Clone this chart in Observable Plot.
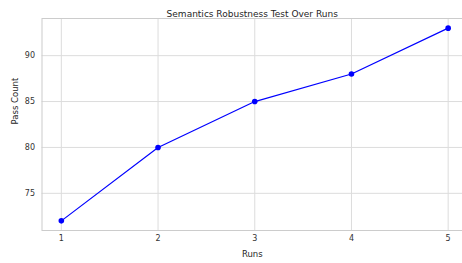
<!DOCTYPE html>
<html>
<head>
<meta charset="utf-8">
<script src="https://cdn.jsdelivr.net/npm/d3@7"></script>
<script src="https://cdn.jsdelivr.net/npm/@observablehq/plot@0.6"></script>
<style>
  html, body { margin: 0; padding: 0; background: #fff; }
  svg { display: block; }
</style>
</head>
<body>
<div id="chart"></div>
<script>
const runs = [1, 2, 3, 4, 5];
const passCount = [72, 80, 85, 88, 93];
const xTicks = [1, 2, 3, 4, 5];
const yTicks = [75, 80, 85, 90];
const title = "Semantics Robustness Test Over Runs";
const xLabel = "Runs";
const yLabel = "Pass Count";

const data = runs.map((r, i) => ({run: r, count: passCount[i]}));
const font = "DejaVu Sans, sans-serif";
const gridColor = "#dcdcdc";

const chart = Plot.plot({
  width: 462,
  height: 263,
  marginTop: 18,
  marginBottom: 33,
  marginLeft: 41.5,
  marginRight: 0,
  style: {fontFamily: font, background: "#fff"},
  x: {type: "linear", domain: [0.8, 5.2], range: [41.5, 467]},
  y: {domain: [70.95, 94.05]},
  marks: [
    Plot.gridX(xTicks, {stroke: gridColor, strokeOpacity: 1, strokeWidth: 1}),
    Plot.gridY(yTicks, {stroke: gridColor, strokeOpacity: 1, strokeWidth: 1}),
    Plot.frame({stroke: "#cccccc", strokeWidth: 1}),
    Plot.axisX(xTicks, {tickSize: 0, tickPadding: 5, label: null, fontSize: 8, fill: "#333", tickFormat: d => String(d)}),
    Plot.axisY(yTicks, {tickSize: 0, tickPadding: 7, label: null, fontSize: 8, fill: "#333", tickFormat: d => String(d)}),
    Plot.line(data, {x: "run", y: "count", stroke: "#0000ff", strokeWidth: 1.2}),
    Plot.dot(data, {x: "run", y: "count", r: 2.8, fill: "#0000ff", stroke: "none"}),
    Plot.text([title], {frameAnchor: "top", dy: -7.5, fontSize: 9, fill: "#262626", text: d => d, fontFamily: font}),
    Plot.text([xLabel], {frameAnchor: "bottom", dy: 23.5, fontSize: 8.5, fill: "#262626", text: d => d, lineAnchor: "middle"}),
    Plot.text([yLabel], {frameAnchor: "left", dx: -27, rotate: -90, fontSize: 8.5, fill: "#262626", text: d => d, lineAnchor: "middle"})
  ]
});
document.getElementById("chart").appendChild(chart);
</script>
</body>
</html>
